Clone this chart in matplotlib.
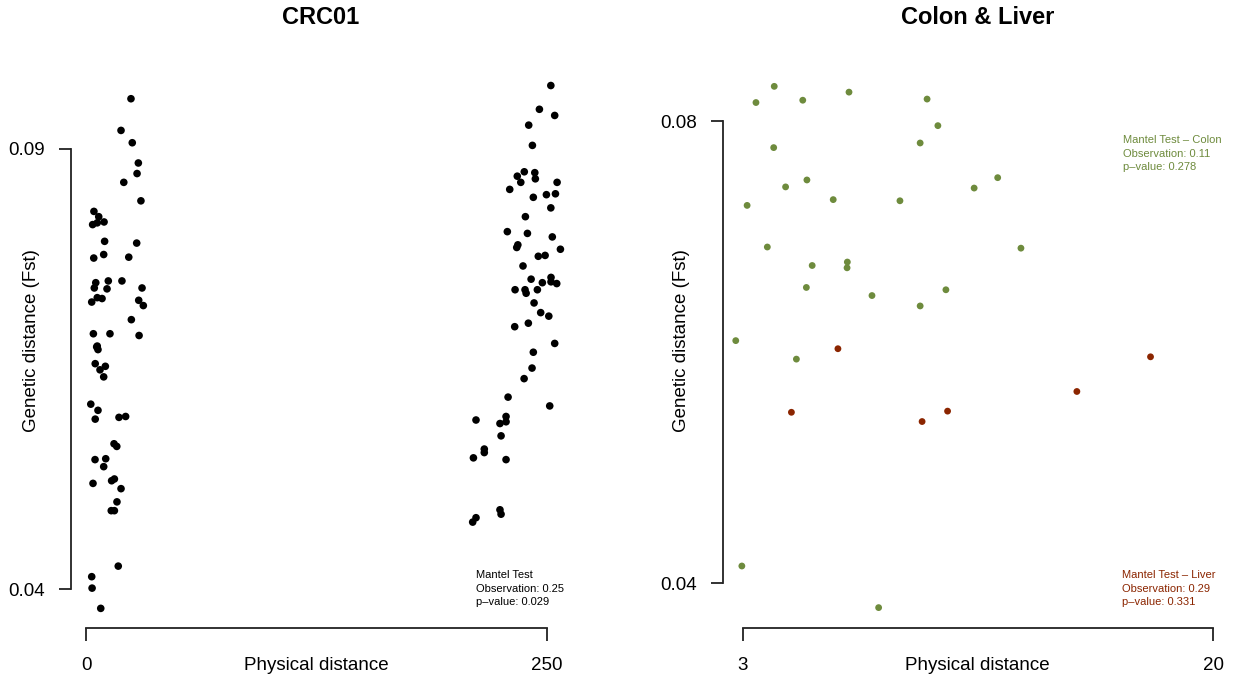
import matplotlib
matplotlib.use("Agg")
import matplotlib.pyplot as plt

plt.rcParams['font.family'] = ['Liberation Sans', 'DejaVu Sans']

# ---- CRC01 data ----
crc_x = [24.4, 19.0, 25.1, 28.4, 27.7, 20.5, 29.8, 4.3, 6.9, 3.6, 6.1, 9.8, 10.1, 27.5,
         4.2, 9.6, 23.2, 5.3, 4.5, 12.1, 11.4, 19.5, 30.4, 3.1, 6.1, 8.7, 28.6, 31.1,
         24.6, 4.0, 13.0, 28.8, 6.1, 6.5, 5.8, 5.0, 7.6, 10.5, 9.6, 2.6, 6.5, 5.0,
         17.9, 21.5, 15.2, 16.7, 4.9, 10.7, 9.6, 3.8, 13.9, 15.4, 19.0, 16.8, 13.7,
         15.4, 17.5, 3.1, 3.3, 8.0,
         252.2, 246.0, 254.3, 240.2, 242.2, 234.0, 237.8, 235.9, 243.5, 243.8, 229.9,
         255.6, 242.7, 249.8, 254.7, 252.2, 238.4, 228.6, 239.5, 253.0, 257.4, 234.3,
         233.7, 245.4, 249.1, 237.1, 241.5, 232.8, 238.2, 238.8, 244.9, 247.6, 252.3,
         252.3, 255.4, 243.1, 246.7, 251.1, 232.6, 240.0, 254.3, 242.7, 242.0, 237.7,
         229.0, 251.6, 211.6, 227.9, 227.9, 224.6, 225.2, 216.1, 216.1, 210.2, 227.9,
         224.6, 225.2, 211.6, 209.8]
crc_y = [0.0957, 0.0921, 0.0907, 0.0884, 0.0872, 0.0862, 0.0841, 0.0829, 0.0823, 0.0814,
         0.0816, 0.0817, 0.0795, 0.0793, 0.0776, 0.0780, 0.0777, 0.0748, 0.0742, 0.0750,
         0.0741, 0.0750, 0.0742, 0.0726, 0.0731, 0.0730, 0.0728, 0.0722, 0.0706, 0.0690,
         0.0690, 0.0688, 0.0676, 0.0672, 0.0675, 0.0656, 0.0649, 0.0653, 0.0641, 0.0610,
         0.0603, 0.0593, 0.0595, 0.0596, 0.0565, 0.0562, 0.0547, 0.0548, 0.0539, 0.0520,
         0.0523, 0.0525, 0.0514, 0.0499, 0.0489, 0.0489, 0.0426, 0.0414, 0.0401, 0.0378,
         0.0972, 0.0945, 0.0938, 0.0927, 0.0904, 0.0869, 0.0874, 0.0862, 0.0873, 0.0866,
         0.0854, 0.0862, 0.0845, 0.0848, 0.0849, 0.0833, 0.0823, 0.0806, 0.0804, 0.0800,
         0.0786, 0.0791, 0.0788, 0.0778, 0.0779, 0.0767, 0.0752, 0.0740, 0.0740, 0.0736,
         0.0740, 0.0748, 0.0754, 0.0749, 0.0747, 0.0725, 0.0714, 0.0710, 0.0698, 0.0702,
         0.0679, 0.0669, 0.0651, 0.0639, 0.0618, 0.0608, 0.0592, 0.0596, 0.0590, 0.0588,
         0.0574, 0.0559, 0.0555, 0.0549, 0.0547, 0.0490, 0.0485, 0.0481, 0.0476]

# ---- Colon & Liver data ----
colon_x = [4.14, 3.48, 5.17, 6.84, 9.66, 10.05, 9.41, 4.12, 4.55, 5.32, 3.16, 6.27, 8.68,
           3.89, 5.51, 6.78, 6.77, 5.30, 7.67, 10.34, 9.41, 2.75, 4.94, 12.21, 11.36,
           13.05, 2.97, 7.91]
colon_y = [0.0830, 0.0816, 0.0818, 0.0825, 0.0819, 0.0796, 0.0781, 0.0777, 0.0743, 0.0749,
           0.0727, 0.0732, 0.0731, 0.0691, 0.0675, 0.0678, 0.0673, 0.0656, 0.0649, 0.0654,
           0.0640, 0.0610, 0.0594, 0.0751, 0.0742, 0.0690, 0.0415, 0.0379]
liver_x = [6.44, 4.76, 9.48, 10.40, 17.73, 15.07]
liver_y = [0.0603, 0.0548, 0.0540, 0.0549, 0.0596, 0.0566]

green = '#6E8B3D'
red = '#8B2500'
W, H = 1233, 679
fig = plt.figure(figsize=(W / 100, H / 100), dpi=100)


def px_axes(l, r, t, b):
    return fig.add_axes([l / W, (H - b) / H, (r - l) / W, (b - t) / H])


def ftext(x, y, s, **kw):
    return fig.text(x / W, (H - y) / H, s, **kw)


def style(ax, xb, yb, xt, yt):
    for s in ['top', 'right']:
        ax.spines[s].set_visible(False)
    ax.spines['left'].set_bounds(*yb)
    ax.spines['bottom'].set_bounds(*xb)
    for s in ['left', 'bottom']:
        ax.spines[s].set_linewidth(1.3)
        ax.spines[s].set_color('#222222')
    ax.set_xticks(xt)
    ax.set_yticks(yt)
    ax.tick_params(axis='both', length=9, width=1.3, color='#222222',
                   labelsize=13.5)
    ax.tick_params(axis='x', pad=12)
    ax.tick_params(axis='y', pad=10)


# Left panel
ax1 = px_axes(71, 570, 60, 628)
ax1.set_xlim(-8.14, 262.6)
ax1.set_ylim(0.03557, 0.1001)
ax1.scatter(crc_x, crc_y, s=30, color='black', edgecolors='none', zorder=3)
style(ax1, (0, 250), (0.04, 0.09), [0, 250], [0.04, 0.09])
ax1.set_xticklabels(['0', '250'])
ax1.set_yticklabels(['0.04', '0.09'])
ftext(316, 665, 'Physical distance', fontsize=13.5, ha='center', va='center')
ftext(32, 341, 'Genetic distance (Fst)', fontsize=13.5, ha='center', va='center',
      rotation=90)
ftext(321, 18, 'CRC01', fontsize=17, fontweight='bold', ha='center', va='center')
ftext(476, 570, 'Mantel Test\nObservation: 0.25\np\u2013value: 0.029',
      fontsize=8, va='top', ha='left', linespacing=1.45, color='black')

# Right panel
ax2 = px_axes(723.3, 1225, 60, 628.3)
ax2.set_xlim(2.30, 20.42)
ax2.set_ylim(0.03611, 0.08528)
ax2.scatter(colon_x, colon_y, s=24, color=green, edgecolors='none', zorder=3)
ax2.scatter(liver_x, liver_y, s=24, color=red, edgecolors='none', zorder=3)
style(ax2, (3, 20), (0.04, 0.08), [3, 20], [0.04, 0.08])
ax2.set_xticklabels(['3', '20'])
ax2.set_yticklabels(['0.04', '0.08'])
ftext(977, 665, 'Physical distance', fontsize=13.5, ha='center', va='center')
ftext(682, 341, 'Genetic distance (Fst)', fontsize=13.5, ha='center', va='center',
      rotation=90)
ftext(978, 18, 'Colon & Liver', fontsize=17, fontweight='bold', ha='center', va='center')
ftext(1123, 135, 'Mantel Test \u2013 Colon\nObservation: 0.11\np\u2013value: 0.278',
      fontsize=8, va='top', ha='left', linespacing=1.45, color=green)
ftext(1122, 570, 'Mantel Test \u2013 Liver\nObservation: 0.29\np\u2013value: 0.331',
      fontsize=8, va='top', ha='left', linespacing=1.45, color=red)

fig.savefig('out.png', dpi=100)
